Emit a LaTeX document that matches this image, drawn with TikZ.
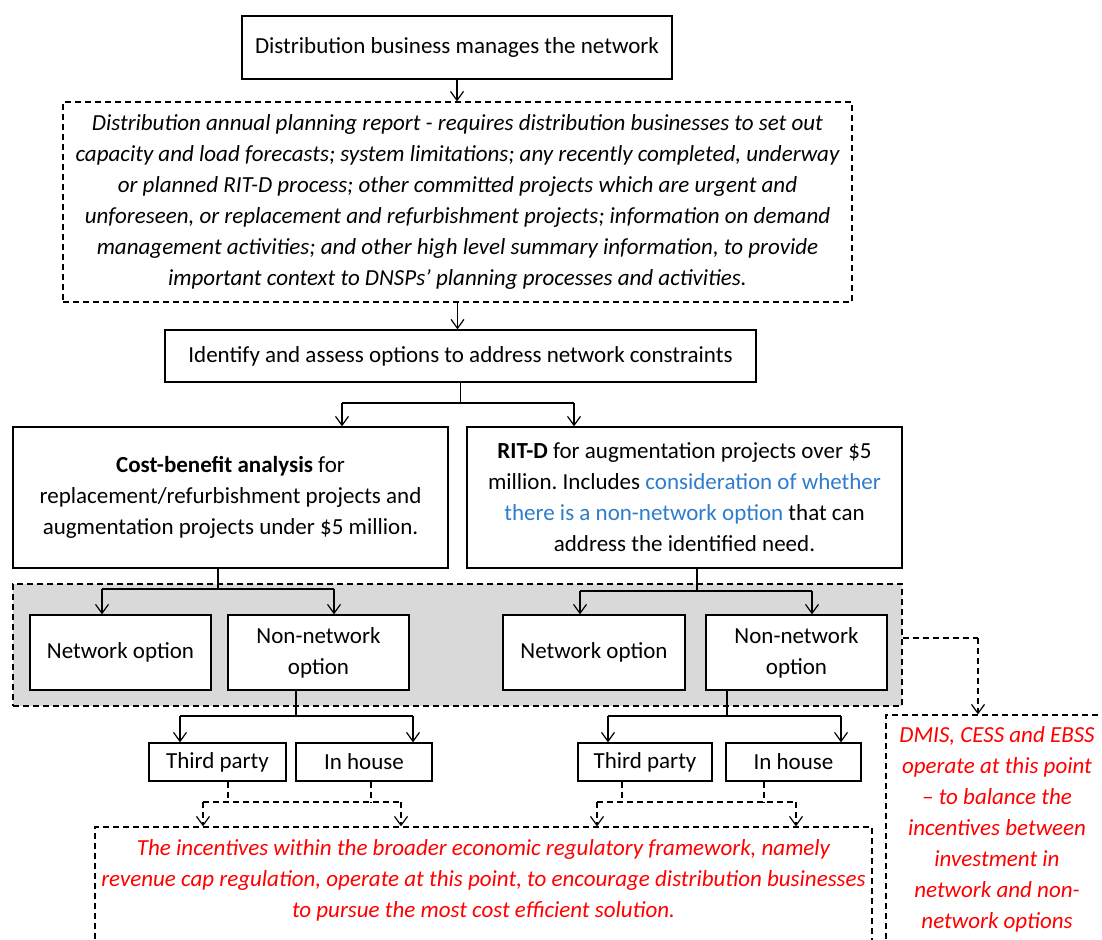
\documentclass[tikz,border=0pt]{standalone}
\usepackage{fontspec}
\setmainfont{Carlito}
\usetikzlibrary{arrows.meta}
\definecolor{linkblue}{RGB}{46,125,205}
\definecolor{greyfill}{RGB}{217,217,217}
\definecolor{redtext}{RGB}{255,0,0}
\frenchspacing
\begin{document}
\begin{tikzpicture}[x=1pt,y=-1pt,
  every node/.style={font=\fontsize{23}{31}\selectfont},
  box/.style={draw, line width=1.3pt, fill=white, inner sep=0pt, align=center},
  dbox/.style={draw, line width=1.2pt, dash pattern=on 6pt off 4pt, inner sep=0pt, align=center},
  conn/.style={line width=1.3pt},
  arr/.style={conn, -{Straight Barb[length=9pt,width=13pt,line width=1.2pt]}},
  dconn/.style={line width=1.2pt, dash pattern=on 6pt off 4pt},
  darr/.style={dconn, -{Straight Barb[length=9pt,width=13pt,line width=1.2pt]}},
  redtxt/.style={text=redtext, align=center, font=\fontsize{23}{31}\selectfont\itshape},
]
\clip (0,0) rectangle (1102,939);
\fill[white] (0,0) rectangle (1102,939);

% grey region
\node[dbox, fill=greyfill, minimum width=889pt, minimum height=122pt] (grey) at (457.5,645) {};

% main boxes
\node[box, minimum width=430pt, minimum height=63pt] (b1) at (457,47.5) {Distribution business manages the network};
\node[dbox, minimum width=789pt, minimum height=200pt, font=\fontsize{23}{31}\selectfont\itshape] (b2) at (457.5,202) {Distribution annual planning report - requires distribution businesses to set out\\
capacity and load forecasts; system limitations; any recently completed, underway\\
or planned RIT-D process; other committed projects which are urgent and\\
unforeseen, or replacement and refurbishment projects; information on demand\\
management activities; and other high level summary information, to provide\\
important context to DNSPs’ planning processes and activities.};
\node[box, minimum width=591pt, minimum height=52pt] (b3) at (460.5,356) {Identify and assess options to address network constraints};
\node[box, minimum width=435pt, minimum height=141pt] (cba) at (230.5,497.5) {\textbf{Cost-benefit analysis} for\\replacement/refurbishment projects and\\augmentation projects under \$5 million.};
\node[box, minimum width=435pt, minimum height=141pt] (rit) at (684.5,497.5) {\textbf{RIT-D} for augmentation projects over \$5\\million. Includes \textcolor{linkblue}{consideration of whether}\\\textcolor{linkblue}{there is a non-network option} that can\\address the identified need.};

\node[box, minimum width=181pt, minimum height=75pt] (netL) at (120.5,652.5) {Network option};
\node[box, minimum width=181pt, minimum height=75pt] (nnL) at (318.5,652.5) {Non-network\\option};
\node[box, minimum width=182pt, minimum height=75pt] (netR) at (594,652.5) {Network option};
\node[box, minimum width=181pt, minimum height=75pt] (nnR) at (796.5,652.5) {Non-network\\option};

\node[box, minimum width=137pt, minimum height=38pt] (tpL) at (217.5,762) {Third party};
\node[box, minimum width=136pt, minimum height=38pt] (ihL) at (364,762) {In house};
\node[box, minimum width=134pt, minimum height=38pt] (tpR) at (645,762) {Third party};
\node[box, minimum width=135pt, minimum height=38pt] (ihR) at (793.5,762) {In house};

\node[dbox, minimum width=777pt, minimum height=140pt] (red) at (483.5,897) {};
\node[redtxt] (redt) at (483.5,880.5) {The incentives within the broader economic regulatory framework, namely\\revenue cap regulation, operate at this point, to encourage distribution businesses\\to pursue the most cost efficient solution.};
\node[dbox, minimum width=226pt, minimum height=260pt] (dmis) at (999,845) {};
\node[redtxt] (dmist) at (997,829.5) {DMIS, CESS and EBSS\\operate at this point\\– to balance the\\incentives between\\investment in\\network and non-\\network options};

% connectors
\draw[arr] (b1.south) -- (b1.south |- b2.north);
\draw[arr] (b2.south) -- (b2.south |- b3.north);

\coordinate (j1) at (460.5,403);
\coordinate (aL) at (342,403);
\coordinate (aR) at (574,403);
\draw[conn] (b3.south) -- (j1);
\draw[conn] (aL) -- (aR);
\draw[arr] (aL) -- (aL |- cba.north);
\draw[arr] (aR) -- (aR |- rit.north);

\coordinate (cL) at (218,589);
\coordinate (cL1) at (102,589);
\coordinate (cL2) at (334,589);
\draw[conn] (cL |- cba.south) -- (cL);
\draw[conn] (cL1) -- (cL2);
\draw[arr] (cL1) -- (cL1 |- netL.north);
\draw[arr] (cL2) -- (cL2 |- nnL.north);

\coordinate (rL) at (697,591);
\coordinate (rL1) at (580,591);
\coordinate (rL2) at (812,591);
\draw[conn] (rL |- rit.south) -- (rL);
\draw[conn] (rL1) -- (rL2);
\draw[arr] (rL1) -- (rL1 |- netR.north);
\draw[arr] (rL2) -- (rL2 |- nnR.north);

\coordinate (nL) at (296,716);
\coordinate (nL1) at (180,716);
\coordinate (nL2) at (413,716);
\draw[conn] (nL |- nnL.south) -- (nL);
\draw[conn] (nL1) -- (nL2);
\draw[arr] (nL1) -- (nL1 |- tpL.north);
\draw[arr] (nL2) -- (nL2 |- ihL.north);

\coordinate (nR) at (727,716);
\coordinate (nR1) at (608,716);
\coordinate (nR2) at (841,716);
\draw[conn] (nR |- nnR.south) -- (nR);
\draw[conn] (nR1) -- (nR2);
\draw[arr] (nR1) -- (nR1 |- tpR.north);
\draw[arr] (nR2) -- (nR2 |- ihR.north);

% dashed links to the red box
\coordinate (dL1) at (203,802);
\coordinate (dL2) at (401,802);
\coordinate (tLs) at (228,802);
\coordinate (iLs) at (371,802);
\draw[dconn] (tLs |- tpL.south) -- (tLs);
\draw[dconn] (iLs |- ihL.south) -- (iLs);
\draw[dconn] (dL1) -- (dL2);
\draw[darr] (dL1) -- (dL1 |- red.north);
\draw[darr] (dL2) -- (dL2 |- red.north);

\coordinate (dR1) at (597,802);
\coordinate (dR2) at (796,802);
\coordinate (tRs) at (622,802);
\coordinate (iRs) at (764,802);
\draw[dconn] (tRs |- tpR.south) -- (tRs);
\draw[dconn] (iRs |- ihR.south) -- (iRs);
\draw[dconn] (dR1) -- (dR2);
\draw[darr] (dR1) -- (dR1 |- red.north);
\draw[darr] (dR2) -- (dR2 |- red.north);

% grey region to DMIS box
\coordinate (gq) at (978,638);
\draw[dconn] (gq -| grey.east) -- (gq);
\draw[darr] (gq) -- (gq |- dmis.north);
\end{tikzpicture}
\end{document}
